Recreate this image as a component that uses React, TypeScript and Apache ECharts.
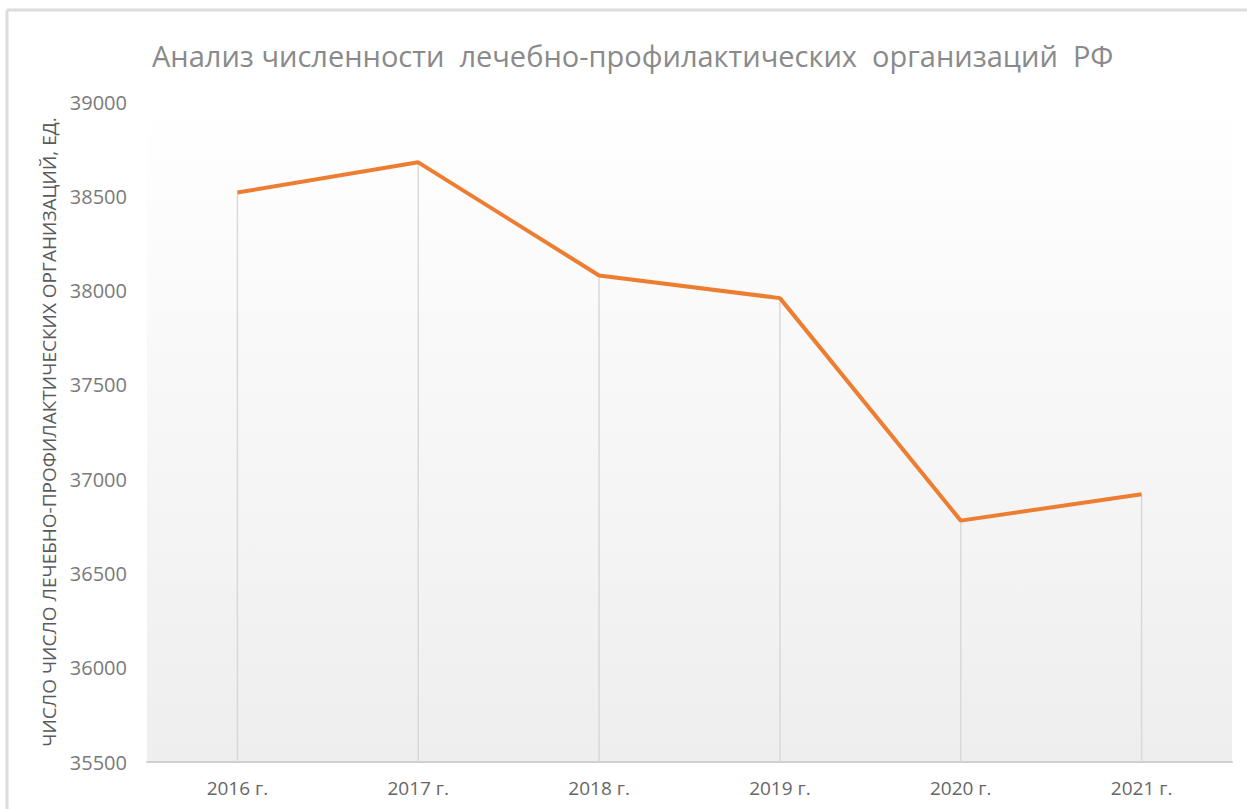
import React, { useEffect, useRef } from "react";
import * as echarts from "echarts";

const titleText = "Анализ численности  лечебно-профилактических  организаций  РФ";
const yAxisTitle = "ЧИСЛО ЧИСЛО ЛЕЧЕБНО-ПРОФИЛАКТИЧЕСКИХ ОРГАНИЗАЦИЙ, ЕД.";
const years = ["2016 г.", "2017 г.", "2018 г.", "2019 г.", "2020 г.", "2021 г."];
const counts = [38520, 38680, 38080, 37960, 36780, 36920];
const yMin = 35500;
const yMax = 39000;
const yStep = 500;

export default function App() {
  const ref = useRef<HTMLDivElement>(null);
  useEffect(() => {
    if (!ref.current) return;
    const chart = echarts.init(ref.current, null, { renderer: "svg" });
    const font = "'Open Sans', sans-serif";
    chart.setOption({
      animation: false,
      backgroundColor: "#ffffff",
      title: {
        text: titleText,
        left: 147,
        top: 36,
        textStyle: { fontFamily: font, fontSize: 29, fontWeight: "normal", color: "#8a8a8a" },
      },
      graphic: [
        { type: "line", shape: { x1: 7, y1: 10, x2: 1247, y2: 10 }, style: { stroke: "#dcdcdc", lineWidth: 3 } },
        { type: "line", shape: { x1: 7, y1: 10, x2: 7, y2: 809 }, style: { stroke: "#dcdcdc", lineWidth: 3 } },
      ],
      grid: {
        left: 147,
        right: 15,
        top: 102,
        bottom: 47,
        show: true,
        borderWidth: 0,
        backgroundColor: new echarts.graphic.LinearGradient(0, 0, 0, 1, [
          { offset: 0, color: "#ffffff" },
          { offset: 1, color: "#eeeeee" },
        ]),
      },
      xAxis: {
        type: "category",
        data: years,
        boundaryGap: true,
        axisLine: { show: true, lineStyle: { color: "#d0d0d0", width: 2 } },
        axisTick: { show: false },
        axisLabel: { fontFamily: font, fontSize: 19, color: "#666666", margin: 16 },
        splitLine: { show: false },
      },
      yAxis: {
        type: "value",
        min: yMin,
        max: yMax,
        interval: yStep,
        name: yAxisTitle,
        nameLocation: "middle",
        nameGap: 86,
        nameRotate: 90,
        nameTextStyle: { fontFamily: font, fontSize: 19, color: "#5a5a5a" },
        axisLine: { show: false },
        axisTick: { show: false },
        splitLine: { show: false },
        axisLabel: {
          fontFamily: font,
          fontSize: 20,
          color: "#7a7a7a",
          margin: 20,
          formatter: (v: number) => String(v),
        },
      },
      series: [
        {
          type: "bar",
          data: counts,
          barWidth: 1.5,
          itemStyle: { color: "#d9d9d9" },
          z: 1,
          silent: true,
        },
        {
          type: "line",
          data: counts,
          symbol: "none",
          lineStyle: { color: "#ED7D31", width: 4 },
          z: 3,
        },
      ],
    });
    return () => chart.dispose();
  }, []);
  return (
    <div
      ref={ref}
      style={{ position: "fixed", left: 0, top: 0, width: 1247, height: 809 }}
    />
  );
}
